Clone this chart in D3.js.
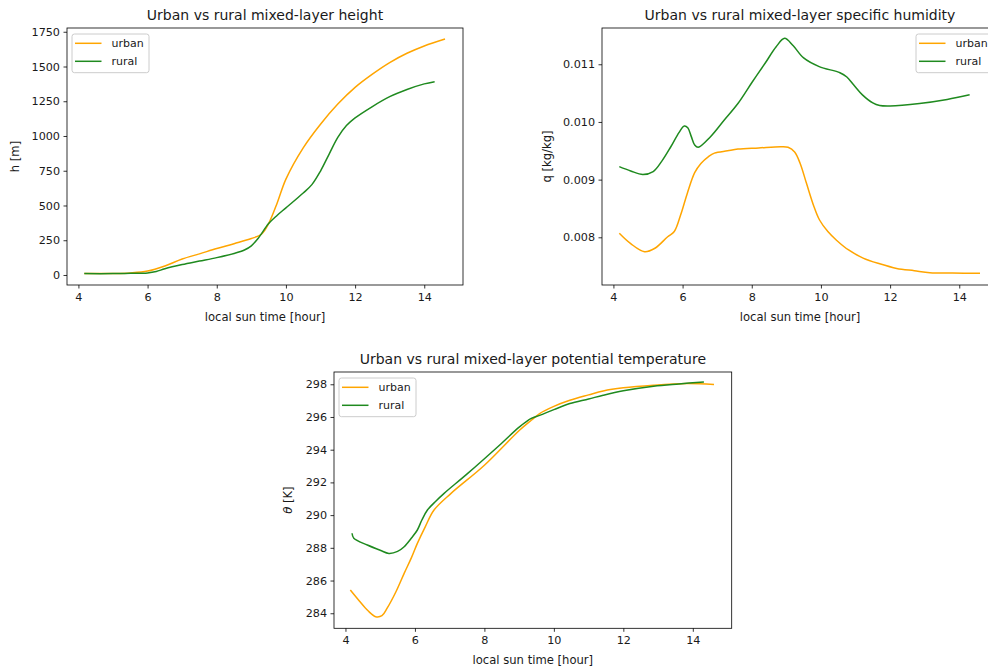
<!DOCTYPE html>
<meta charset="utf-8">
<head>
<style>
body { margin: 0; background: #fff; }
svg { display: block; }
text { font-family: "DejaVu Sans", sans-serif; fill: #1a1a1a; }
.title { font-size: 14px; }
.axis-label { font-size: 11.6px; }
.tick text { font-size: 11.2px; fill: #1a1a1a; }
.tick line { stroke: #000; stroke-width: 0.8px; }
.frame { fill: none; stroke: #000; stroke-width: 0.8px; }
.legend text { font-size: 11px; }
.legend rect { fill: #fff; fill-opacity: 0.8; stroke: #cccccc; stroke-width: 1px; }
.series { fill: none; stroke-width: 1.5px; }
</style>
<title>Urban vs rural mixed layer</title>
</head>
<body>
<svg id="graphic" width="988" height="668"></svg>
<script src="https://d3js.org/d3.v7.min.js"></script>
<script>
// ---- mixed-layer height h [m] ----
var hUrbanTime = [4.17, 5.0, 5.5, 6.0, 6.5, 7.0, 7.5, 8.0, 8.5, 9.0, 9.3, 9.5, 9.75, 10.0, 10.5, 11.0, 11.5, 12.0, 12.5, 13.0, 13.5, 14.0, 14.6];
var hUrban     = [10, 11, 15, 28, 65, 115, 152, 190, 225, 262, 295, 370, 520, 690, 915, 1085, 1230, 1350, 1445, 1528, 1595, 1648, 1698];
var hRuralTime = [4.17, 5.0, 5.5, 6.0, 6.25, 6.5, 7.0, 7.5, 8.0, 8.5, 8.8, 9.0, 9.2, 9.5, 9.75, 10.0, 10.5, 10.75, 11.0, 11.25, 11.5, 11.75, 12.0, 12.5, 13.0, 13.5, 14.0, 14.3];
var hRural     = [10, 10, 12, 15, 25, 45, 75, 100, 125, 155, 180, 210, 265, 370, 430, 483, 590, 650, 748, 870, 990, 1075, 1130, 1212, 1283, 1335, 1375, 1391];

// ---- specific humidity q [kg/kg] ----
var qUrbanTime = [4.17, 4.5, 4.9, 5.2, 5.57, 5.76, 5.95, 6.14, 6.35, 6.53, 6.75, 6.92, 7.3, 7.6, 8.2, 8.85, 9.05, 9.24, 9.4, 9.58, 9.8, 9.96, 10.2, 10.45, 10.8, 11.22, 11.7, 12.19, 12.7, 13.15, 13.8, 14.6];
var qUrban     = [0.00807, 0.00789, 0.00775, 0.00781, 0.00801, 0.00810, 0.00840, 0.00877, 0.00912, 0.00928, 0.00940, 0.00946, 0.00950, 0.00953, 0.00955, 0.00957, 0.00956, 0.00948, 0.00928, 0.00894, 0.00853, 0.00830, 0.00810, 0.00795, 0.00778, 0.00764, 0.00754, 0.00746, 0.00742, 0.007386, 0.00738, 0.007376];
var qRuralTime = [4.17, 4.5, 4.85, 5.15, 5.4, 5.66, 5.9, 6.05, 6.15, 6.25, 6.35, 6.45, 6.8, 7.2, 7.6, 8.0, 8.4, 8.7, 8.95, 9.2, 9.5, 9.95, 10.55, 10.75, 10.95, 11.2, 11.5, 11.7, 12.0, 12.85, 13.65, 14.3];
var qRural     = [0.009225, 0.00915, 0.00909, 0.00914, 0.00932, 0.00957, 0.00982, 0.00993, 0.00990, 0.00975, 0.00960, 0.00956, 0.00974, 0.01003, 0.01032, 0.01068, 0.01103, 0.01130, 0.01145, 0.01132, 0.01111, 0.01096, 0.010854, 0.01078, 0.01064, 0.01047, 0.01033, 0.010285, 0.010277, 0.01032, 0.01039, 0.01047];

// ---- potential temperature theta [K] ----
var tUrbanTime = [4.14, 4.4, 4.65, 4.87, 5.05, 5.2, 5.45, 5.69, 5.9, 6.07, 6.3, 6.55, 7.04, 8.0, 9.01, 9.35, 9.59, 10.0, 10.46, 11.0, 11.42, 12.0, 12.87, 13.84, 14.61];
var tUrban     = [285.42, 284.75, 284.15, 283.79, 283.85, 284.31, 285.3, 286.44, 287.4, 288.27, 289.3, 290.31, 291.33, 293.05, 295.19, 295.8, 296.21, 296.65, 297.02, 297.35, 297.59, 297.78, 297.94, 298.04, 297.98];
var tRuralTime = [4.19, 4.24, 4.63, 5.0, 5.25, 5.5, 5.69, 5.9, 6.07, 6.2, 6.36, 6.6, 6.84, 7.52, 8.49, 9.01, 9.35, 9.59, 10.0, 10.46, 11.0, 11.42, 12.0, 12.87, 13.6, 14.32];
var tRural     = [288.89, 288.58, 288.17, 287.85, 287.66, 287.78, 288.07, 288.6, 289.09, 289.7, 290.31, 290.85, 291.33, 292.55, 294.38, 295.39, 295.91, 296.1, 296.45, 296.82, 297.1, 297.33, 297.6, 297.88, 298.02, 298.14];

var xTicks = [4, 6, 8, 10, 12, 14];
var hTicks = [0, 250, 500, 750, 1000, 1250, 1500, 1750];
var qTicks = [0.008, 0.009, 0.010, 0.011];
var tTicks = [284, 286, 288, 290, 292, 294, 296, 298];

var urbanColor = "#ffa500",
    ruralColor = "#1f8a1f";

var svg = d3.select("svg");

function zip(xs, ys) {
  return xs.map(function(x, i) { return [x, ys[i]]; });
}

function drawPanel(p) {
  var w = p.right - p.left,
      h = p.bottom - p.top;

  var x = d3.scaleLinear().domain([3.67, 15.12]).range([0, w]);
  var y = d3.scaleLinear().domain(p.yDomain).range([h, 0]);

  var g = svg.append("g")
      .attr("transform", "translate(" + p.left + "," + p.top + ")");

  var line = d3.line()
      .x(function(d) { return x(d[0]); })
      .y(function(d) { return y(d[1]); })
      .curve(d3.curveCatmullRom.alpha(0.5));

  g.append("path")
      .attr("class", "series")
      .attr("stroke", urbanColor)
      .attr("d", line(zip(p.urbanT, p.urban)));

  g.append("path")
      .attr("class", "series")
      .attr("stroke", ruralColor)
      .attr("d", line(zip(p.ruralT, p.rural)));

  var xAxis = g.append("g")
      .attr("transform", "translate(0," + h + ")")
      .call(d3.axisBottom(x).tickValues(xTicks).tickSize(3.5).tickPadding(4.5).tickFormat(d3.format("d")));
  xAxis.select(".domain").remove();

  var yAxis = g.append("g")
      .call(d3.axisLeft(y).tickValues(p.yTicks).tickSize(3.5).tickPadding(3.5).tickFormat(p.yFormat));
  yAxis.select(".domain").remove();

  g.selectAll(".tick text").style("font-family", "'DejaVu Sans', sans-serif");

  g.append("rect")
      .attr("class", "frame")
      .attr("width", w)
      .attr("height", h);

  g.append("text")
      .attr("class", "title")
      .attr("x", w / 2)
      .attr("y", -8)
      .attr("text-anchor", "middle")
      .text(p.title);

  g.append("text")
      .attr("class", "axis-label")
      .attr("x", w / 2)
      .attr("y", h + 35.5)
      .attr("text-anchor", "middle")
      .text("local sun time [hour]");

  var yl = g.append("text")
      .attr("class", "axis-label")
      .attr("transform", "translate(" + (p.yLabelX - p.left) + "," + (h / 2) + ") rotate(-90)")
      .attr("dy", "0.35em")
      .attr("text-anchor", "middle");
  if (p.yLabelItalic) {
    yl.append("tspan").attr("font-style", "italic").text(p.yLabelItalic);
  }
  yl.append("tspan").text(p.yLabel);

  // legend
  var lw = 77, lh = 38.7;
  var lx = p.legendRight ? w - 5 - lw : 5;
  var legend = g.append("g")
      .attr("class", "legend")
      .attr("transform", "translate(" + lx + ",6)");
  legend.append("rect")
      .attr("width", lw)
      .attr("height", lh)
      .attr("rx", 2.5);
  [["urban", urbanColor], ["rural", ruralColor]].forEach(function(d, i) {
    var ly = 9.3 + i * 18;
    legend.append("line")
        .attr("x1", 3).attr("x2", 29.5)
        .attr("y1", ly).attr("y2", ly)
        .attr("stroke", d[1])
        .attr("stroke-width", 1.5);
    legend.append("text")
        .attr("x", 39.5)
        .attr("y", ly + 4)
        .text(d[0]);
  });
}

drawPanel({
  left: 67, right: 463, top: 28, bottom: 285,
  yDomain: [-72, 1777], yTicks: hTicks, yFormat: d3.format("d"),
  title: "Urban vs rural mixed-layer height",
  yLabel: "h [m]", yLabelX: 15,
  urbanT: hUrbanTime, urban: hUrban, ruralT: hRuralTime, rural: hRural,
  legendRight: false
});

drawPanel({
  left: 602, right: 998, top: 28, bottom: 285,
  yDomain: [0.007173, 0.011629], yTicks: qTicks, yFormat: d3.format(".3f"),
  title: "Urban vs rural mixed-layer specific humidity",
  yLabel: "q [kg/kg]", yLabelX: 547,
  urbanT: qUrbanTime, urban: qUrban, ruralT: qRuralTime, rural: qRural,
  legendRight: true
});

drawPanel({
  left: 334, right: 731.7, top: 372, bottom: 628.3,
  yDomain: [283.08, 298.75], yTicks: tTicks, yFormat: d3.format("d"),
  title: "Urban vs rural mixed-layer potential temperature",
  yLabel: " [K]", yLabelItalic: "θ", yLabelX: 288,
  urbanT: tUrbanTime, urban: tUrban, ruralT: tRuralTime, rural: tRural,
  legendRight: false
});
</script>
</body>
